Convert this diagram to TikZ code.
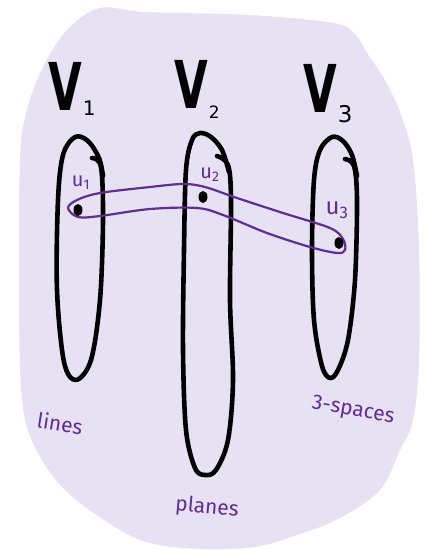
\documentclass[tikz,border=0pt]{standalone}
\usepackage{fontspec}
\usetikzlibrary{shapes.geometric}
\setmainfont{Fira Sans}
\newfontfamily\bigV{DejaVu Sans}
\newcommand{\vsetlabel}[3]{\scalebox{0.66}[1]{V}\kern1pt\raisebox{#3}{\fontsize{#2}{#2}\mdseries\selectfont #1}}
\begin{document}
\begin{tikzpicture}[x=1pt,y=-1pt,
  blobfill/.style={fill=lav},
  part/.style={draw=black,line width=4.6pt,line cap=round,line join=round},
  edgeloop/.style={draw=hyp,line width=2.2pt,line join=round},
  vertexdot/.style={ellipse,fill=black,inner sep=0pt,minimum width=9pt,minimum height=12pt},
  vname/.style={inner sep=0pt,anchor=base west,font=\bigV\bfseries\fontsize{66}{66}\selectfont},
  ulabel/.style={inner sep=0pt,text=hyp,font=\fontsize{20}{20}\selectfont},
  dimlabel/.style={inner sep=0pt,text=hyp,font=\fontsize{21}{21}\selectfont}]
\definecolor{lav}{RGB}{231,226,243}
\definecolor{hyp}{RGB}{96,44,150}
\useasboundingbox (0,0) rectangle (425,550);

% lavender background region
\path[blobfill] plot[smooth cycle,tension=0.6] coordinates {
  (100,8) (145,12) (250,15) (333,23) (355,34) (367,53) (383,77) (400,112)
  (413,160) (419,250) (419,360) (413,420) (400,450) (380,490) (340,518)
  (300,534) (255,547) (200,549) (150,543) (115,527) (65,490) (35,447)
  (22,400) (19,300) (20,160) (27,110) (43,67) (67,30)};

% the three parts
\draw[part] plot[smooth,tension=0.55] coordinates {
  (92,158) (101,167) (103,220) (100,300) (91,360) (76,380) (64,362)
  (57,290) (58,200) (63,155) (75,137) (88,141) (99,158) (103,176)};
\draw[part] plot[smooth,tension=0.55] coordinates {
  (217,156) (228,165) (231,200) (230,300) (233,380) (228,440) (216,470)
  (205,475) (195,468) (186,430) (183,350) (184,250) (186,170) (192,140)
  (200,133) (211,137) (222,150) (229,172)};
\draw[part] plot[smooth,tension=0.55] coordinates {
  (345,159) (354,166) (357,200) (355,280) (348,340) (338,370) (330,378)
  (322,366) (314,320) (312,250) (314,180) (320,150) (332,137) (343,141)
  (352,155) (357,176)};

% part names
\node[vname] (V1) at (48,110) {\vsetlabel{1}{20}{-5pt}};
\node[vname] (V2) at (174,108) {\vsetlabel{2}{17}{-10pt}};
\node[vname] (V3) at (303,112) {\vsetlabel{3}{23}{-10pt}};

% hyperedge through the three vertices
\draw[edgeloop] plot[smooth cycle,tension=0.55] coordinates {
  (68,208) (77,200) (100,193) (150,187) (183,184) (205,187) (237,198)
  (283,213) (330,228) (343,239) (345,250) (337,253) (310,247) (267,233)
  (223,215) (197,208) (150,209) (100,216) (78,217)};

% vertices
\node[vertexdot] (u1) at (78,210) {};
\node[vertexdot] (u2) at (203,197) {};
\node[vertexdot] (u3) at (339,243) {};
\node[ulabel] (l1) at (81,183) {u\textsubscript{1}};
\node[ulabel] (l2) at (210,175) {u\textsubscript{2}};
\node[ulabel,font=\fontsize{24}{24}\selectfont] (l3) at (337,210) {u\textsubscript{3}};

% part descriptions
\node[dimlabel,rotate=-9] (lines) at (60,423) {lines};
\node[dimlabel,rotate=-5] (planes) at (207,508) {planes};
\node[dimlabel,rotate=-10] (spaces) at (353,411) {3-spaces};
\end{tikzpicture}
\end{document}
